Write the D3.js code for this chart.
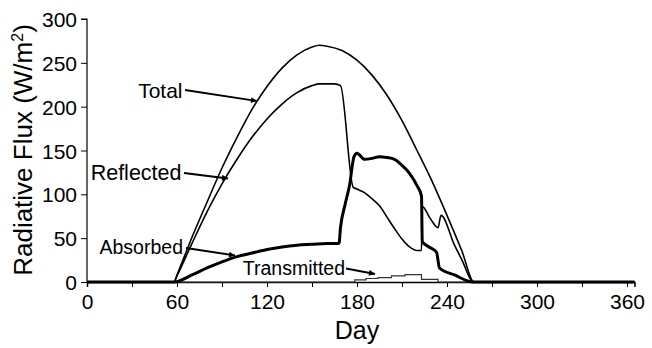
<!DOCTYPE html>
<html>
<head>
<meta charset="utf-8">
<script src="https://cdn.jsdelivr.net/npm/d3@7"></script>
<style>
  body { margin: 0; background: #fff; }
  svg text { font-family: "Liberation Sans", Arial, sans-serif; }
</style>
</head>
<body>
<svg id="chart" width="652" height="348"></svg>
<script>
// values (day, W/m2)
var totalDays = [0, 58, 60, 70, 80, 90, 100, 110, 120, 130, 140, 150, 155, 160, 170, 180, 190, 200, 210, 220, 230, 240, 250, 258, 365]
var totalVals = [0, 0, 8, 51, 91, 130, 165, 197, 223, 244, 259, 268, 270, 269, 264, 253, 236, 213, 184, 150, 115, 76, 35, 0, 0]

var reflDays = [0, 58, 60, 70, 80, 90, 100, 110, 120, 130, 140, 150, 155, 165, 169, 177.5, 180, 185, 190, 195, 200, 205, 210, 215, 220, 223, 223.5, 229, 234, 236, 245, 250, 257.5, 365]
var reflVals = [0, 0, 7, 44, 80, 112, 140, 165, 186, 203, 216, 224, 226, 226, 224, 108, 106, 102, 95, 87, 74, 61, 49, 40, 36, 36, 86, 72, 62, 76, 42, 25, 0, 0]

var absDays = [0, 58, 70, 80, 90, 100, 110, 120, 130, 140, 150, 160, 168, 169, 172, 175, 178, 180, 185, 190, 195, 200, 205, 210, 215, 220, 223, 223.5, 228, 233, 235, 245, 257.5, 365]
var absVals = [0, 0, 8, 16, 23, 29, 33, 37, 40, 42, 43, 44, 44, 62, 88, 110, 143, 147, 140, 141, 143, 142, 140, 133, 124, 110, 98, 46, 40, 34, 16, 8, 0, 0]

var transDays = [0, 178.5, 178.5, 186, 186, 194, 194, 203, 203, 212, 212, 223, 223, 234, 234, 365]
var transVals = [0, 0, 2.5, 2.5, 4, 4, 5, 5, 7, 7, 8.5, 8.5, 3, 3, 0, 0]

var xTicks = [0, 30, 60, 90, 120, 150, 180, 210, 240, 270, 300, 330, 360]
var yTicks = [0, 50, 100, 150, 200, 250, 300]

var svg = d3.select("#chart")

var x = d3.scaleLinear().domain([0, 365]).range([87, 634.5])
var y = d3.scaleLinear().domain([0, 300]).range([282, 19])

svg.append("defs").append("marker")
  .attr("id", "arrow")
  .attr("viewBox", "0 0 10 10")
  .attr("refX", 10).attr("refY", 5)
  .attr("markerWidth", 10).attr("markerHeight", 6)
  .attr("markerUnits", "userSpaceOnUse")
  .attr("orient", "auto")
  .append("path")
  .attr("d", "M0,0L10,5L0,10Z")
  .attr("fill", "#000")

// axes
var xAxis = svg.append("g")
  .attr("transform", "translate(0," + y(0) + ")")
  .call(d3.axisBottom(x).tickValues(xTicks).tickSize(5)
    .tickFormat(function(d) { return d % 60 === 0 ? d : "" }))
xAxis.select(".domain").attr("stroke-width", 1.5)

var yAxis = svg.append("g")
  .attr("transform", "translate(" + x(0) + ",0)")
  .call(d3.axisLeft(y).tickValues(yTicks).tickSize(6).tickPadding(4))
yAxis.select(".domain").attr("stroke-width", 1.2)
  .attr("d", "M-6," + y(300) + "H0V" + y(0))

svg.selectAll(".tick text").attr("fill", "#000")
  .style("font-size", "21px")
xAxis.selectAll(".tick text").attr("y", 27).attr("dy", 0)
yAxis.selectAll(".tick text").attr("dy", "0.36em")

var line = d3.line()
  .x(function(d) { return x(d[0]) })
  .y(function(d) { return y(d[1]) })
var smooth = d3.line()
  .x(function(d) { return x(d[0]) })
  .y(function(d) { return y(d[1]) })
  .curve(d3.curveMonotoneX)

function pairs(days, vals) {
  return days.map(function(d, i) { return [d, vals[i]] })
}

svg.append("path").datum(pairs(transDays, transVals))
  .attr("d", line).attr("fill", "none").attr("stroke", "#333").attr("stroke-width", 1.2)
svg.append("path").datum(pairs(totalDays, totalVals))
  .attr("d", smooth).attr("fill", "none").attr("stroke", "#000").attr("stroke-width", 1.6)
svg.append("path").datum(pairs(reflDays, reflVals))
  .attr("d", smooth).attr("fill", "none").attr("stroke", "#000").attr("stroke-width", 1.6)
svg.append("path").datum(pairs(absDays, absVals))
  .attr("d", smooth).attr("fill", "none").attr("stroke", "#000").attr("stroke-width", 3)

// series labels with arrows
var labels = [
  {text: "Total", tx: 182.5, ty: 97.5, size: 21, from: [185, 90], to: [257, 101]},
  {text: "Reflected", tx: 181.5, ty: 179.5, size: 21.5, from: [184, 173], to: [228, 178.5]},
  {text: "Absorbed", tx: 183, ty: 253.5, size: 19.5, from: [186, 248], to: [235, 255.5]},
  {text: "Transmitted", tx: 345, ty: 275, size: 19.5, from: [346, 268.5], to: [375, 274]}
]
labels.forEach(function(l) {
  svg.append("text")
    .attr("x", l.tx).attr("y", l.ty)
    .attr("text-anchor", "end")
    .style("font-size", l.size + "px")
    .text(l.text)
  svg.append("line")
    .attr("x1", l.from[0]).attr("y1", l.from[1])
    .attr("x2", l.to[0]).attr("y2", l.to[1])
    .attr("stroke", "#000").attr("stroke-width", 1.8)
    .attr("marker-end", "url(#arrow)")
})

// axis titles
svg.append("text")
  .attr("x", (x(0) + x(360)) / 2).attr("y", 339)
  .attr("text-anchor", "middle")
  .style("font-size", "25px")
  .text("Day")

var yt = svg.append("text")
  .attr("transform", "translate(32,150) rotate(-90)")
  .attr("text-anchor", "middle")
  .style("font-size", "26px")
yt.append("tspan").text("Radiative Flux (W/m")
yt.append("tspan").attr("dy", -9).style("font-size", "16px").text("2")
yt.append("tspan").attr("dy", 9).text(")")
</script>
</body>
</html>
